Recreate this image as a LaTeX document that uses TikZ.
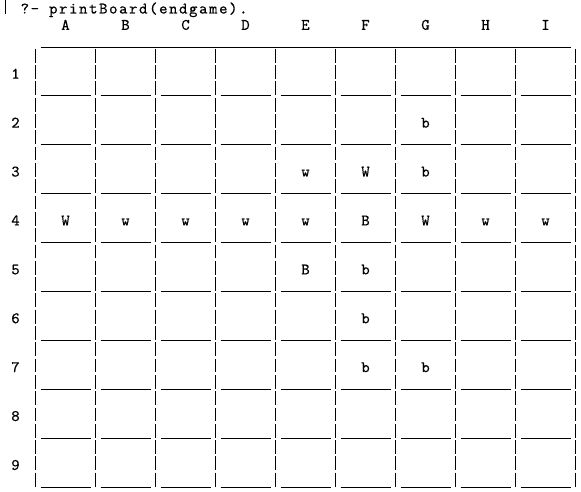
\documentclass[tikz,border=0pt]{standalone}
\usepackage{fontspec}
\newfontfamily\boardfont{lmmono10-regular.otf}[FakeBold=0.5]
\newfontfamily\promptfont{lmmono10-regular.otf}[LetterSpace=10,FakeBold=0.5]
\begin{document}
\begin{tikzpicture}[x=1pt,y=-1pt,
  gridline/.style={line width=1pt, black},
  glyph/.style={font=\boardfont\fontsize{16}{16}\selectfont, inner sep=0pt, anchor=base, text=black},
  prompttext/.style={font=\promptfont\fontsize{16}{16}\selectfont, inner sep=0pt, anchor=base west, text=black}]
\useasboundingbox (0,0) rectangle (581,492);
% baseline of text line L: 13.5+16.3*L ; centre of character column i: 5.5+10*i
\draw[gridline] (5.5,0) -- (5.5,13.8);
\node[prompttext] (prompt) at (20.5,13.5) {?- printBoard(endgame).};
% column letters
\foreach \c [count=\k from 0] in {A,B,C,D,E,F,G,H,I}{
  \node[glyph] (col\c) at ({65.5+60*\k},29.8) {\c};
}
% top line
\draw[gridline] (40.5,47.1) -- (570.5,47.1);
% vertical bars, one per text line
\foreach \k in {0,...,9}{
  \foreach \L in {3,...,29}{
    \draw[gridline] ({35.5+60*\k},{16.3*\L}) -- ({35.5+60*\k},{13.8+16.3*\L});
  }
}
% bottom edges of the cells
\foreach \r in {1,...,9}{
  \foreach \k in {0,...,8}{
    \draw[gridline] ({40.5+60*\k},{14.5+16.3*(2+3*\r)}) -- ++(50,0);
  }
}
% row numbers
\foreach \r in {1,...,9}{
  \node[glyph] (row\r) at (15.5,{13.5+16.3*(1+3*\r)}) {\r};
}
% pieces
\foreach \k/\r/\p in {6/2/b, 4/3/w, 5/3/W, 6/3/b,
  0/4/W, 1/4/w, 2/4/w, 3/4/w, 4/4/w, 5/4/B, 6/4/W, 7/4/w, 8/4/w,
  4/5/B, 5/5/b, 5/6/b, 5/7/b, 6/7/b}{
  \node[glyph] (p\k\r) at ({65.5+60*\k},{13.5+16.3*(1+3*\r)}) {\p};
}
\end{tikzpicture}
\end{document}
